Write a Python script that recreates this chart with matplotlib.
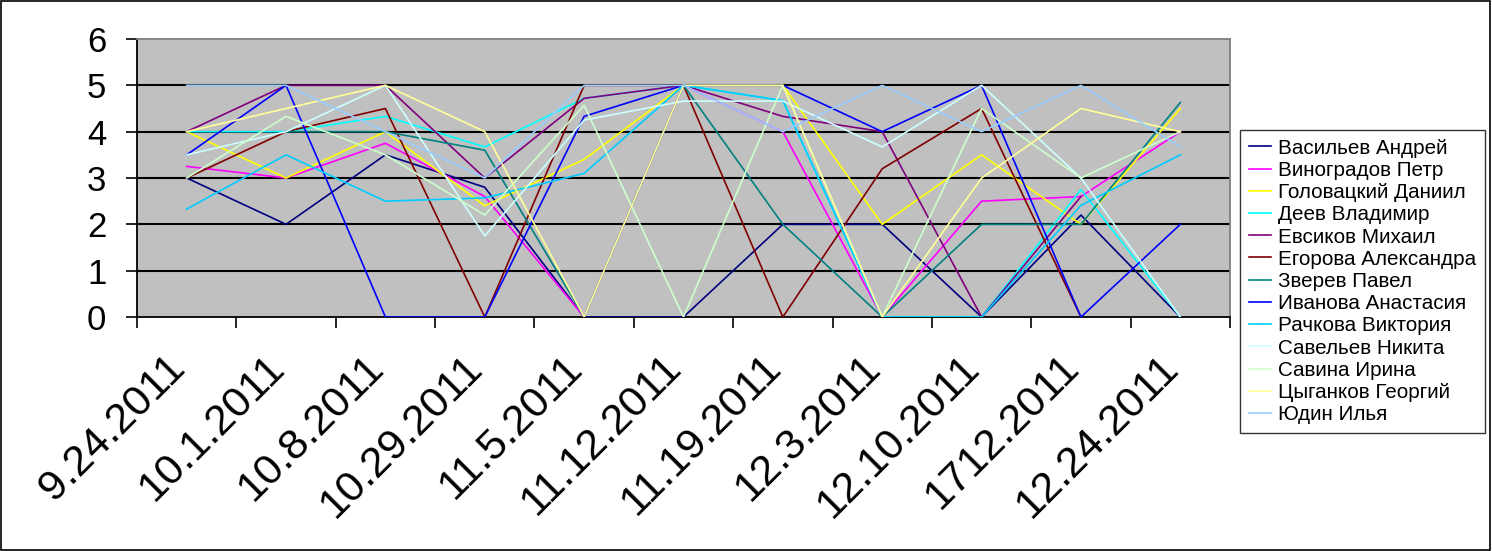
import numpy as np
import matplotlib
matplotlib.use("Agg")
import matplotlib.pyplot as plt
import matplotlib.transforms as mtransforms

nan = np.nan
dates = ["9.24.2011", "10.1.2011", "10.8.2011", "10.29.2011", "11.5.2011", "11.12.2011",
         "11.19.2011", "12.3.2011", "12.10.2011", "1712.2011", "12.24.2011"]

names = ["Васильев Андрей", "Виноградов Петр", "Головацкий Даниил", "Деев Владимир",
         "Евсиков Михаил", "Егорова Александра", "Зверев Павел", "Иванова Анастасия",
         "Рачкова Виктория", "Савельев Никита", "Савина Ирина", "Цыганков Георгий", "Юдин Илья"]

vasiliev   = [3, 2, 3.5, 2.8, 0, 0, 2, 2, 0, 2.2, 0]
vinogradov = [3.25, 3, 3.75, 2.6, 0, 5, 4, 0, 2.5, 2.6, 4]
golovatsky = [4, 3, 4, 2.4, 3.4, 5, 5, 2, 3.5, 2, 4.5]
deev       = [4, 4, 4.33, 3.67, 4.72, 5, 4.67, 0, 0, 2.75, 0]
evsikov    = [4, 5, 5, 3, 4.72, 5, 4.33, 4, 0, 2.6, nan]
egorova    = [3, 4, 4.5, 0, 5, 5, 0, 3.2, 4.5, 0, nan]
zverev     = [nan, 4, 4, 3.6, 0, 5, 2, 0, 2, 2, 4.63]
ivanova    = [3.5, 5, 0, 0, 4.33, 5, 5, 4, 5, 0, 2]
rachkova   = [2.33, 3.5, 2.5, 2.57, 3.1, 5, 4.67, 0, 0, 2.41, 3.5]
saveliev   = [3.5, 4, 5, 1.75, 4.25, 4.66, 4.66, 3.67, 5, 3, 0]
savina     = [3, 4.33, 3.5, 2.2, 4.57, 0, 5, 0, 4.5, 3, 4]
tsygankov  = [4, 4.5, 5, 4, 0, 5, 5, 0, 3, 4.5, 4]
yudin      = [5, 5, 4, 3, 5, 5, 4, 5, 4, 5, 3.67]

series = [vasiliev, vinogradov, golovatsky, deev, evsikov, egorova, zverev,
          ivanova, rachkova, saveliev, savina, tsygankov, yudin]
colors = ["#000080", "#FF00FF", "#FFFF00", "#00FFFF", "#800080", "#800000", "#008080",
          "#0000FF", "#00CCFF", "#CCFFFF", "#CCFFCC", "#FFFF99", "#99CCFF"]

plt.rcParams['font.family'] = ['Liberation Sans', 'DejaVu Sans']

fig = plt.figure(figsize=(14.92, 5.51), dpi=100)
ax = fig.add_axes([137/1492, 1-317/551, (1230-137)/1492, (317-39)/551])
ax.set_facecolor("#C0C0C0")

x = np.arange(len(dates)) + 0.5
for vals, c, n in zip(series, colors, names):
    ax.plot(x, vals, color=c, lw=1.2, label=n, zorder=3)

ax.set_xlim(0, len(dates))
ax.set_ylim(0, 6)
ax.set_yticks(range(0, 7))
for yv in range(1, 6):
    ax.axhline(yv, color="black", lw=1.5, zorder=2)

ax.set_xticks(np.arange(len(dates) + 1))
ax.set_xticklabels([])
ax.set_xticks(x, minor=True)
ax.set_xticklabels(dates, minor=True, rotation=45, ha="right", va="top",
                   rotation_mode="anchor", fontsize=31)
ax.tick_params(axis="x", which="minor", length=0, pad=16)
ax.tick_params(axis="x", which="major", length=8, width=1.2, color="black")
ax.tick_params(axis="y", length=8, width=1.2, labelsize=25, pad=14)

offset = mtransforms.ScaledTranslation(-22/100, -8/100, fig.dpi_scale_trans)
for lab in ax.get_xticklabels(minor=True):
    lab.set_transform(lab.get_transform() + offset)

for s in ["left", "bottom"]:
    ax.spines[s].set_color("black")
    ax.spines[s].set_linewidth(1.3)
for s in ["top", "right"]:
    ax.spines[s].set_color("#808080")
    ax.spines[s].set_linewidth(1.3)

leg = fig.legend(loc="upper left", bbox_to_anchor=(1240/1492, 1-130/551),
                 frameon=True, fancybox=False, edgecolor="black", fontsize=14.9,
                 handlelength=1.1, handletextpad=0.33, labelspacing=0.155,
                 borderpad=0.42, borderaxespad=0)
leg.get_frame().set_linewidth(1.0)

border = plt.Rectangle((0.0005, 0.001), 0.998, 0.997, transform=fig.transFigure,
                       fill=False, edgecolor="black", lw=1.2)
fig.patches.append(border)

fig.savefig("out.png", dpi=100, facecolor="white")
